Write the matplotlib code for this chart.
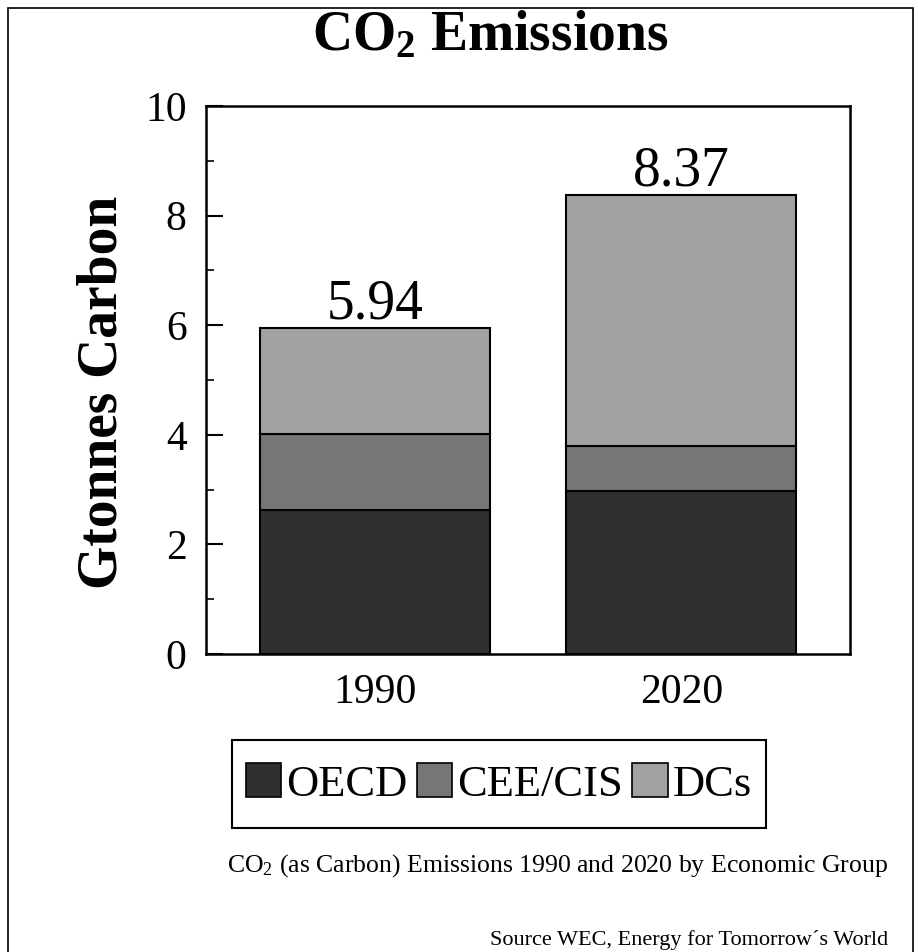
import matplotlib
matplotlib.use("Agg")
import matplotlib.pyplot as plt
from matplotlib.patches import Rectangle, Patch

plt.rcParams['font.family'] = ['Liberation Serif', 'DejaVu Serif']
plt.rcParams['mathtext.fontset'] = 'custom'
plt.rcParams['mathtext.rm'] = 'Liberation Serif'
plt.rcParams['mathtext.it'] = 'Liberation Serif:italic'
plt.rcParams['mathtext.bf'] = 'Liberation Serif:bold'

# emissions in Gtonnes carbon, per economic group
years = ['1990', '2020']
groups = ['OECD', 'CEE/CIS', 'DCs']
oecd = [2.62, 2.98]
cee_cis = [1.40, 0.82]
dcs = [1.92, 4.57]
totals = [5.94, 8.37]
colors = ['#303030', '#767676', '#a2a2a2']

fig = plt.figure(figsize=(9.18, 9.52), dpi=100)
ax = fig.add_axes([0.2244, 0.3130, 0.7015, 0.5757])

x = [0, 1]
bottom = [0.0, 0.0]
for vals, col, name in zip([oecd, cee_cis, dcs], colors, groups):
    ax.bar(x, vals, width=0.75, bottom=bottom, color=col,
           edgecolor='black', linewidth=1.5, label=name)
    bottom = [b + v for b, v in zip(bottom, vals)]

for xi, t in zip(x, totals):
    ax.annotate(f"{t:.2f}", (xi, t), xytext=(0, 7), textcoords='offset points',
                ha='center', va='baseline', fontsize=40)

ax.set_xlim(-0.55, 1.55)
ax.set_ylim(0, 10)
ax.set_yticks([0, 2, 4, 6, 8, 10])
ax.set_yticks([1, 3, 5, 7, 9], minor=True)
ax.set_xticks(x)
ax.set_xticklabels(years)
ax.tick_params(axis='y', which='major', direction='in', length=12, width=1.5,
               labelsize=30, pad=14)
ax.tick_params(axis='y', which='minor', direction='in', length=6, width=1.2)
ax.tick_params(axis='x', length=0, labelsize=30, pad=14)
for s in ax.spines.values():
    s.set_linewidth(1.8)

ax.set_ylabel('Gtonnes Carbon', fontsize=40, fontweight='bold', labelpad=12)
ax.yaxis.label.set_y(0.478)

fig.text(0.534, 1 - 50 / 952, r'CO$_\mathbf{2}$ Emissions', ha='center',
         va='baseline', fontsize=40, fontweight='bold')

# legend in its own box below the axes
lx, ly, lw, lh = 232 / 918, 1 - 828 / 952, 534 / 918, 88 / 952
fig.patches.append(Rectangle((lx, ly), lw, lh, transform=fig.transFigure,
                             facecolor='none', edgecolor='black', linewidth=1.5))
handles = [Patch(facecolor=c, edgecolor='black', linewidth=1.2) for c in colors]
fig.legend(handles, groups, loc='center', bbox_to_anchor=(lx + lw / 2, ly + lh / 2),
           ncol=3, frameon=False, fontsize=32, handlelength=0.8, handleheight=0.8,
           handletextpad=0.12, columnspacing=0.2)

fig.text(0.9673, 1 - 872 / 952,
         r'CO$_2$ (as Carbon) Emissions 1990 and 2020 by Economic Group',
         ha='right', va='baseline', fontsize=18.5)
fig.text(0.9673, 1 - 945 / 952, 'Source WEC, Energy for Tomorrow\u00b4s World',
         ha='right', va='baseline', fontsize=16)

# page frame
fig.patches.append(Rectangle((8 / 918, -0.2), 905 / 918, 1.2 - 8 / 952,
                             transform=fig.transFigure, facecolor='none',
                             edgecolor='black', linewidth=1.2))

fig.savefig('out.png', dpi=100)
